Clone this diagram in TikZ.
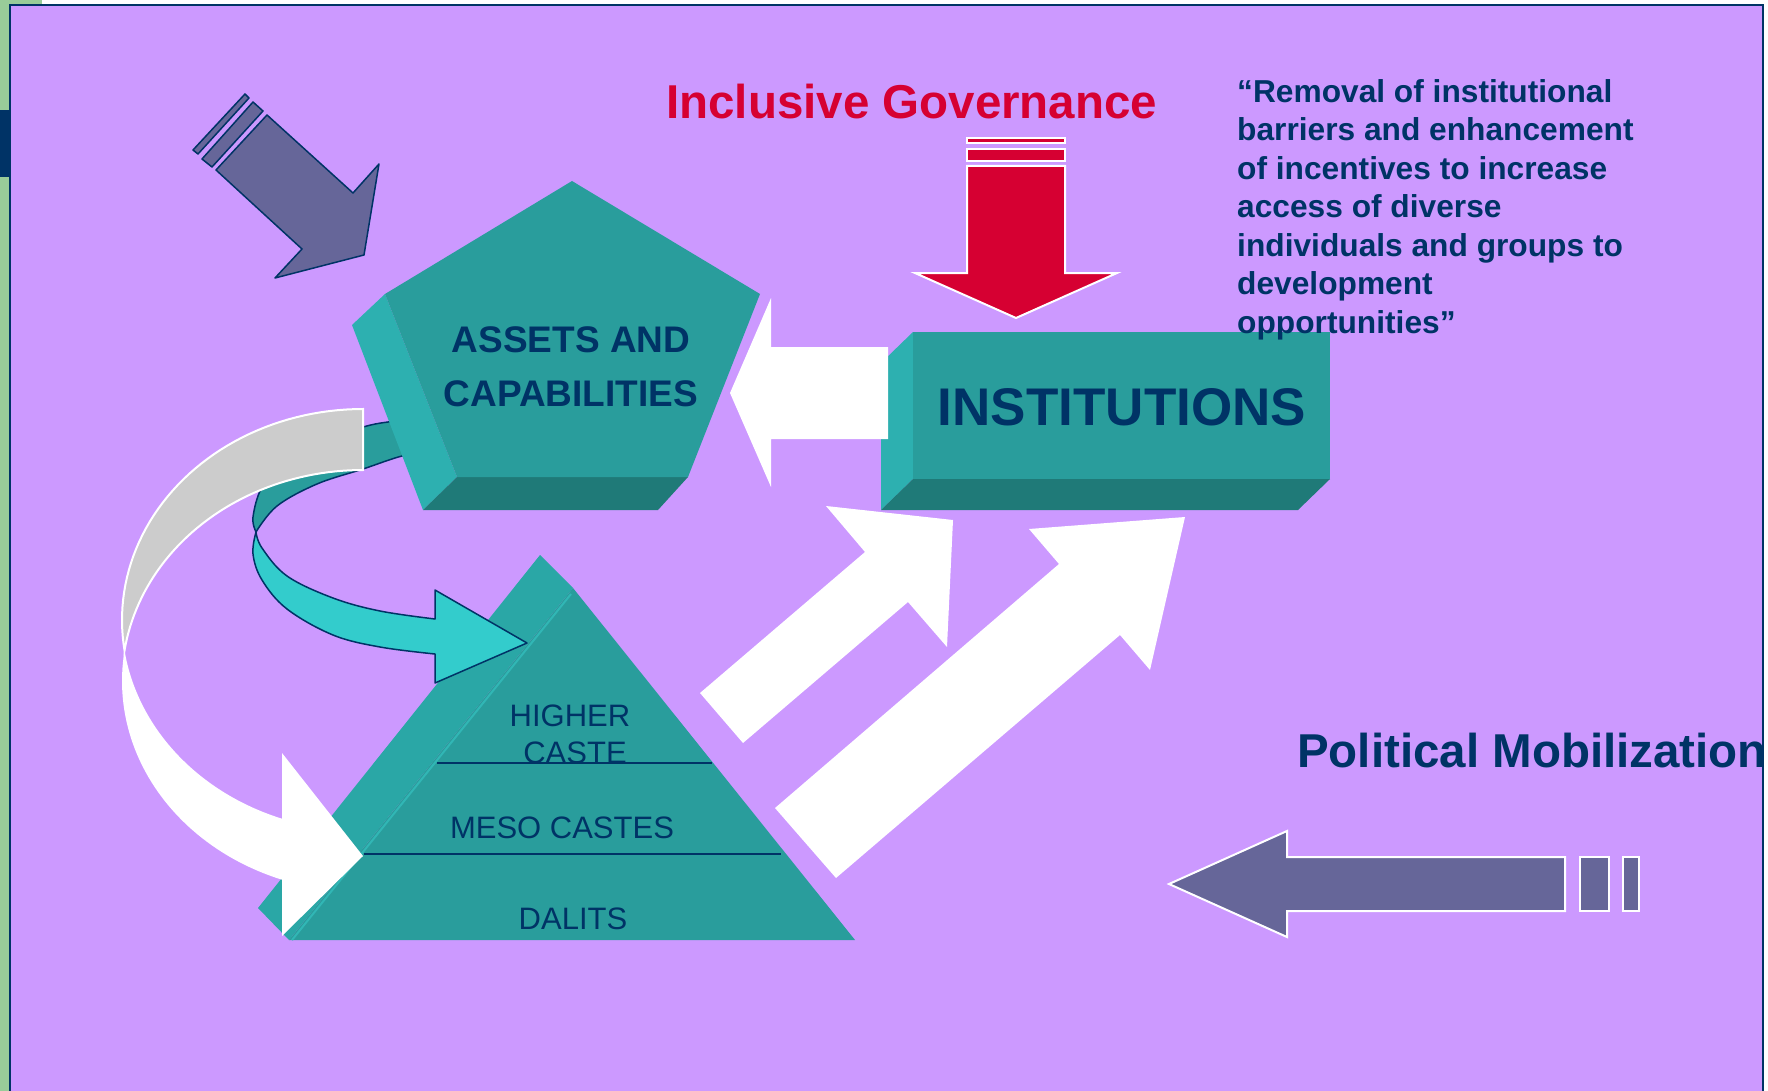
\documentclass[tikz,border=0pt]{standalone}
\usepackage{fontspec}
\setmainfont{Liberation Sans}
\definecolor{bgpurple}{HTML}{CC99FF}
\definecolor{navy}{HTML}{003366}
\definecolor{tealF}{HTML}{299D9C}
\definecolor{tealS}{HTML}{2DB0B0}
\definecolor{tealP}{HTML}{2AA7A6}
\definecolor{tealE}{HTML}{31B6B5}
\definecolor{tealD}{HTML}{1F7A78}
\definecolor{tealL}{HTML}{33CCCC}
\definecolor{grayband}{HTML}{CCCCCC}
\definecolor{crim}{HTML}{D60032}
\definecolor{arrowpurple}{HTML}{666699}
\definecolor{sidegreen}{HTML}{99CC99}
\tikzset{
  navyline/.style={draw=navy, line width=1.5pt, line join=round},
  whiteline/.style={draw=white, line width=2pt, line join=miter},
  castetext/.style={anchor=base, text=navy, inner sep=0pt, font=\fontsize{31}{37}\selectfont},
  boldtext/.style={inner sep=0pt, text=navy, font=\bfseries}
}
\begin{document}
\begin{tikzpicture}[x=1pt,y=-1pt]
\useasboundingbox (0,0) rectangle (1768,1091);
% frame
\fill[white] (0,0) rectangle (1768,1091);
\fill[sidegreen] (0,0) rectangle (9,1091);
\fill[sidegreen] (0,0) rectangle (42,4);
\fill[navy] (0,110) rectangle (10,177);
\fill[bgpurple] (10,5) rectangle (1763,1091);
\draw[navy, line width=1.5pt] (10,1091) -- (10,5) -- (1763,5) -- (1763,1091);

% pyramid
\fill[tealP] (540,555) -- (573,588) -- (289,940) -- (258,908) -- cycle;
\fill[tealF] (573,588) -- (855,940) -- (289,940) -- cycle;
\draw[color=tealE, line width=2pt] (571,594) -- (292,940);
\node[castetext] (higher) at (570,726) {HIGHER};
\node[castetext] (caste) at (575,763) {CASTE};
\node[castetext] (meso) at (562,838) {MESO CASTES};
\node[castetext] (dalits) at (573,929) {DALITS};
\draw[navy, line width=2pt] (437,763) -- (712,763);
\draw[navy, line width=2pt] (364,854) -- (781,854);

% teal curved arrow: back part
\filldraw[fill=tealF, navyline]
  plot[smooth, tension=0.6] coordinates {(430,418) (388,422) (363,427) (320,440) (285,460) (262,487) (253,517) (256,532)}
  -- plot[smooth, tension=0.6] coordinates {(256,532) (277,506) (317,484) (363,469) (402,456) (430,452)} -- cycle;
% teal curved arrow: front part with head
\filldraw[fill=tealL, navyline]
  plot[smooth, tension=0.6] coordinates {(256,532) (262,548) (287,576) (333,598) (380,611) (435,619)}
  -- (435,590) -- (527,643) -- (435,683) --
  plot[smooth, tension=0.6] coordinates {(435,654) (380,647) (333,635) (287,609) (262,580) (253,554) (256,532)} -- cycle;

% pentagon
\fill[tealS] (385,294) -- (352,325) -- (423,510) -- (457,477) -- cycle;
\fill[tealD] (457,477) -- (688,477) -- (658,510) -- (423,510) -- cycle;
\fill[tealF] (572,181) -- (760,294) -- (688,477) -- (457,477) -- (385,294) -- cycle;
\node[boldtext, align=center, font=\bfseries\fontsize{37}{54}\selectfont, anchor=base] (assets) at (571,406) {ASSETS AND\\CAPABILITIES};

% gray / white curved arrow (elliptic ribbon)
\filldraw[fill=grayband, whiteline]
  plot[domain=270:171.7, samples=50, variable=\t] ({363+241*cos(\t)},{620+211*sin(\t)})
  -- plot[domain=188.3:270, samples=50, variable=\t] ({363+241*cos(\t)},{681+211*sin(\t)}) -- cycle;
\fill[white]
  plot[domain=171.7:109.6, samples=50, variable=\t] ({363+241*cos(\t)},{620+211*sin(\t)})
  -- (282,753) -- (363,856) -- (282,936) --
  plot[domain=109.6:188.3, samples=50, variable=\t] ({363+241*cos(\t)},{681+211*sin(\t)}) -- cycle;

% institutions box
\fill[tealS] (913,332) -- (881,363) -- (881,510) -- (913,479) -- cycle;
\fill[tealD] (913,479) -- (1330,479) -- (1298,510) -- (881,510) -- cycle;
\fill[tealF] (913,332) rectangle (1330,479);
\node[boldtext, font=\bfseries\fontsize{53}{60}\selectfont, anchor=base] (inst) at (1122,425) {INSTITUTIONS};

% white arrow institutions -> assets
\fill[white] (888,347) -- (771,347) -- (771,298) -- (730,393) -- (771,487) -- (771,439) -- (888,439) -- cycle;

% big white arrows up-right
\fill[white] (700,693) -- (865,552) -- (826,506) -- (953,520) -- (947,647) -- (908,602) -- (743,743) -- cycle;
\fill[white] (775,808) -- (1059,564) -- (1029,529) -- (1185,517) -- (1150,670) -- (1120,635) -- (836,878) -- cycle;

% red arrow
\filldraw[fill=crim, whiteline] (967,138.5) rectangle (1065,143.5);
\filldraw[fill=crim, whiteline] (967,149) rectangle (1065,161);
\filldraw[fill=crim, whiteline] (967,166) -- (1065,166) -- (1065,273) -- (1117,273) -- (1016,318) -- (915,273) -- (967,273) -- cycle;

% purple arrow top-left
\filldraw[fill=arrowpurple, navyline] (193,150) -- (245,94) -- (249,98) -- (198,154) -- cycle;
\filldraw[fill=arrowpurple, navyline] (202,159) -- (253,102) -- (263,111) -- (212,167) -- cycle;
\filldraw[fill=arrowpurple, navyline] (267,115) -- (353,193) -- (379,164) -- (364,255) -- (275,278) -- (302,249) -- (216,170) -- cycle;

% purple arrow bottom-right
\filldraw[fill=arrowpurple, whiteline] (1169,884) -- (1287,831) -- (1287,857) -- (1565,857) -- (1565,911) -- (1287,911) -- (1287,937) -- cycle;
\filldraw[fill=arrowpurple, whiteline] (1580,857) rectangle (1609,911);
\filldraw[fill=arrowpurple, whiteline] (1623,857) rectangle (1639,911);

% texts
\node[boldtext, text=crim, font=\bfseries\fontsize{47.5}{56}\selectfont, anchor=base west] (gov) at (666,119) {Inclusive Governance};
\node[boldtext, align=left, font=\bfseries\fontsize{31.7}{38.5}\selectfont, anchor=base west] (quote) at (1237,333)
  {“Removal of institutional\\barriers and enhancement\\of incentives to increase\\access of diverse\\individuals and groups to\\development\\opportunities”};
\begin{scope}
\clip (10,5) rectangle (1763,1091);
\node[boldtext, font=\bfseries\fontsize{47.5}{56}\selectfont, anchor=base west] (polmob) at (1297,767) {Political Mobilization};
\end{scope}
\end{tikzpicture}
\end{document}
